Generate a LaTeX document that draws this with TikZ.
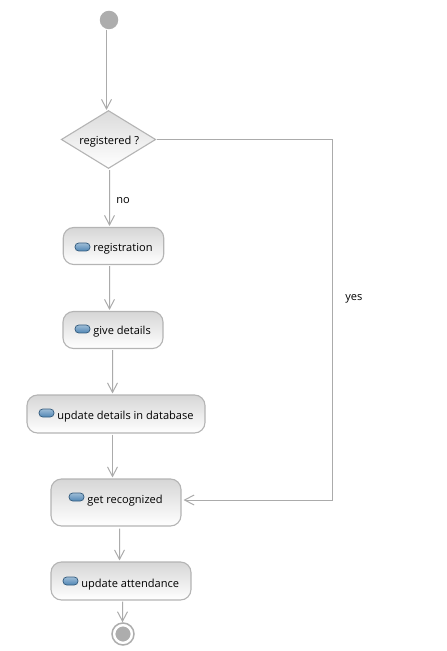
\documentclass[tikz,border=0pt]{standalone}
\usepackage{fontspec}
\setmainfont{Open Sans}
\usetikzlibrary{arrows.meta,positioning,shapes.geometric}
\definecolor{flowgray}{HTML}{ABABAB}
\definecolor{edgegray}{HTML}{B4B4B4}
\definecolor{markgray}{HTML}{ADADAD}
\definecolor{pillblue}{HTML}{4F86B5}
\tikzset{
  flow/.style      = {-{Straight Barb[length=1.9mm,width=2.0mm]}, line width=0.2mm, draw=flowgray},
  actbox/.style    = {rectangle, rounded corners=2.1mm, draw=edgegray, line width=0.22mm,
                      top color=black!16, bottom color=white, inner sep=0pt},
  decision/.style  = {diamond, aspect=1.62, draw=edgegray, line width=0.22mm, top color=black!14,
                      bottom color=white, inner sep=0pt, minimum width=18.9mm, minimum height=11.6mm},
  actlabel/.style  = {anchor=base west, inner sep=0pt, font=\fontsize{6.3}{8}\selectfont},
  pill/.style      = {rectangle, rounded corners=0.75mm, minimum width=3mm, minimum height=1.6mm,
                      inner sep=0pt, draw=pillblue!70!black, line width=0.15mm,
                      top color=pillblue!55, bottom color=pillblue},
  startdot/.style  = {circle, fill=markgray, inner sep=0pt, minimum size=3.7mm},
  enddot/.style    = {circle, fill=markgray, draw=white, line width=0.35mm, inner sep=0pt, minimum size=3.4mm},
  endring/.style   = {circle, draw=markgray, line width=0.3mm, inner sep=0pt, minimum size=4.4mm},
}
\begin{document}
\begin{tikzpicture}[x=0.2mm,y=-0.2mm]
  \useasboundingbox (0,0) rectangle (446,651);

  % ---- start, decision ---------------------------------------------------
  \node[startdot] (start) at (109,20) {};
  \node[decision] (decide) at (108.5,139.5) {};
  \node[actlabel] (decidelabel) at (79,144.5) {registered ?};

  % ---- action boxes ------------------------------------------------------
  \node[actbox,minimum width=20.1mm,minimum height=7.4mm] (reg) at (113.5,246) {};
  \node[actbox,minimum width=20mm,minimum height=7.4mm] (give) at (113,330) {};
  \node[actbox,minimum width=35.6mm,minimum height=7.6mm] (upd) at (116,414) {};
  \node[actbox,minimum width=26mm,minimum height=9.4mm] (get) at (116,502.5) {};
  \node[actbox,minimum width=28mm,minimum height=7.6mm] (att) at (121,581) {};

  % ---- box texts and their icons -----------------------------------------
  \node[actlabel] (reglabel) at (93,252) {registration};
  \node[actlabel] (givelabel) at (93,334) {give details};
  \node[actlabel] (updlabel) at (57,419) {update details in database};
  \node[actlabel] (getlabel) at (87,503) {get recognized};
  \node[actlabel] (attlabel) at (81,587) {update attendance};
  \foreach \name/\x/\y in {reg/82.5/247,give/82.5/329,upd/46.5/413,get/76.5/497,att/70.5/581} {
    \node[pill] (\name icon) at (\x,\y) {};
  }

  % ---- final state -------------------------------------------------------
  \node[endring] (endout) at (123,634) {};
  \node[enddot] (endin) at (123,634) {};

  % ---- free labels -------------------------------------------------------
  \node[actlabel] (nolabel) at (116,204) {no};
  \node[actlabel] (yeslabel) at (345,301) {yes};

  % ---- connectors --------------------------------------------------------
  \draw[flow] ([xshift=-0.5mm]start.south) -- ([xshift=-0.4mm]decide.north);
  \draw[flow] ([xshift=0.2mm,yshift=-0.2mm]decide.south) -- ([xshift=-0.8mm,yshift=0.2mm]reg.north);
  \draw[flow] ([xshift=-0.8mm,yshift=-0.2mm]reg.south) -- ([xshift=-0.7mm,yshift=0.2mm]give.north);
  \draw[flow] ([xshift=-0.1mm,yshift=-0.2mm]give.south) -- ([xshift=-0.7mm,yshift=0.2mm]upd.north);
  \draw[flow] ([xshift=-0.7mm,yshift=-0.2mm]upd.south) -- ([xshift=-0.7mm,yshift=0.2mm]get.north);
  \draw[flow] ([xshift=0.7mm,yshift=-0.4mm]get.south) -- ([xshift=-0.3mm,yshift=0.2mm]att.north);
  \draw[flow] ([xshift=0.3mm,yshift=-0.2mm]att.south) -- ([xshift=-0.1mm]endout.north);

  % yes branch runs round the right side
  \coordinate (bend) at (332,500);
  \draw[flow] ([xshift=0.2mm]decide.east) -| (bend) -- ([xshift=0.4mm]bend -| get.east);
\end{tikzpicture}
\end{document}
